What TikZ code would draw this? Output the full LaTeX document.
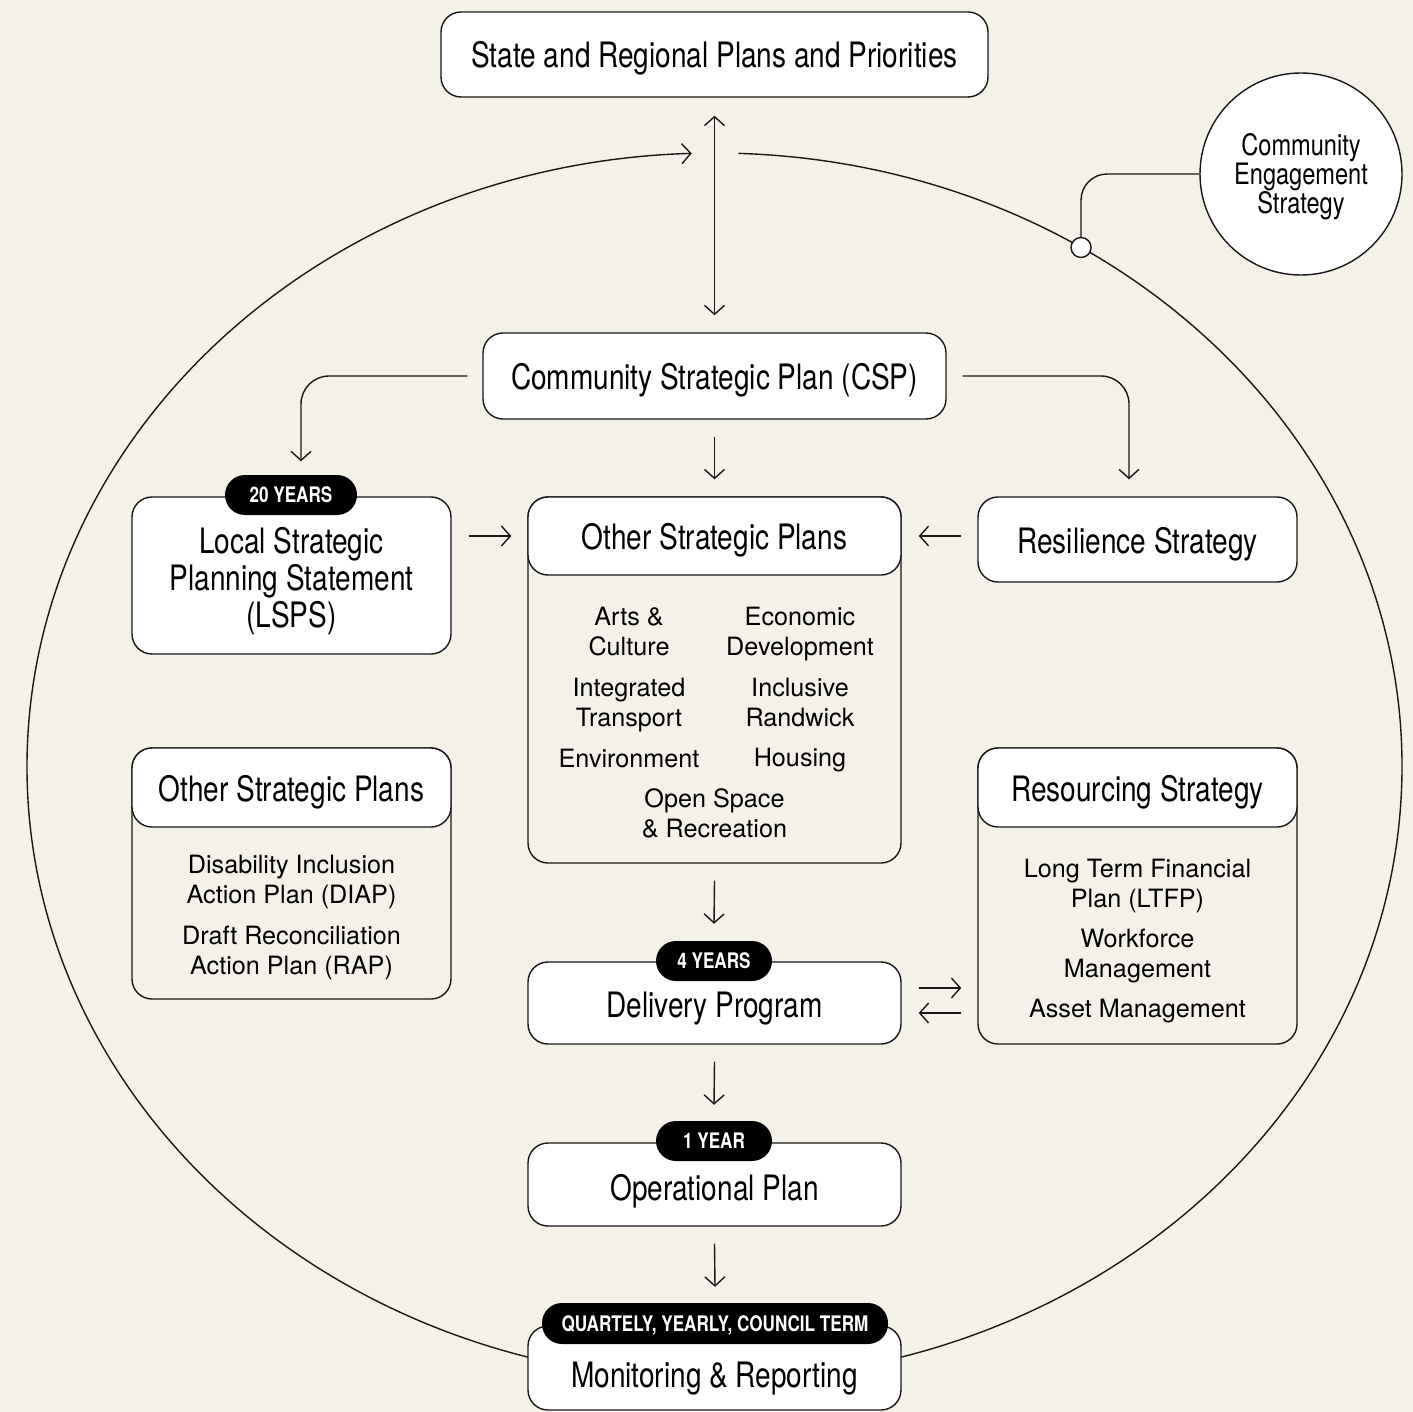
\documentclass[tikz,border=0pt]{standalone}
\usepackage{fontspec}
\setmainfont{TeX Gyre Heros}
\newfontfamily\condsans[FakeStretch=0.8]{TeX Gyre Heros}
\usetikzlibrary{arrows.meta}
\definecolor{paper}{RGB}{244,241,233}
\definecolor{ink}{RGB}{24,24,24}
\newcommand\hdfont{\condsans\fontsize{35}{37}\selectfont}
\newcommand\tgfont{\condsans\bfseries\fontsize{21.4}{21.4}\selectfont}
\newcommand\lsfont{\fontsize{25.2}{30}\selectfont}
\newcommand\rgfont{\condsans\fontsize{29.5}{29}\selectfont}
\tikzset{
  >={Straight Barb[length=9pt,width=20pt]},
  conn/.style={draw=ink, line width=1.4pt},
  box/.style={draw=ink, line width=1.4pt, fill=white, rounded corners=20pt,
    inner sep=0pt, align=center, font=\hdfont, text=black,
    text height=27pt, text depth=0pt},
  boxtxt/.style={align=center, font=\hdfont, text=black, inner sep=0pt},
  panel/.style={draw=ink, line width=1.4pt, fill=paper, rounded corners=20pt, inner sep=0pt},
  tag/.style={fill=black, text=white, rounded corners=20pt, inner sep=0pt,
    minimum height=40pt, font=\tgfont, text height=15.5pt, text depth=0pt},
  listtxt/.style={align=center, font=\lsfont, inner sep=0pt, text=black},
  ring/.style={draw=ink, line width=1.4pt, fill=white, circle, inner sep=0pt,
    minimum size=202pt},
  ringtxt/.style={align=center, font=\rgfont, inner sep=0pt, text=black},
  hubdot/.style={draw=ink, line width=1.4pt, fill=white, circle, inner sep=0pt, minimum size=20pt},
}
\begin{document}
\begin{tikzpicture}[x=1pt,y=1pt]
\fill[paper] (0,0) rectangle (1413,-1412);
\useasboundingbox (0,0) rectangle (1413,-1412);

% planning cycle loop
\coordinate (ringc) at (714.5,-766.5);
\draw[conn,->] ([shift={(88:687.5pt and 613.5pt)}]ringc)
  arc[start angle=88, end angle=-268.1, x radius=687.5pt, y radius=613.5pt];

% engagement strategy attached to the loop
\node[ring] (ces) at (1301,-174) {};
\node[ringtxt] (cestxt) at ([yshift=-3pt]ces.center) {Community\\Engagement\\Strategy};
\node[hubdot] (hub) at ([shift={(57.78:687.5pt and 613.5pt)}]ringc) {};
\draw[conn, rounded corners=26pt] (hub.north) |- (ces.west);

% main boxes
\node[box, minimum width=547pt, minimum height=85pt] (srp) at (714.5,-54.5)
  {State and Regional Plans and Priorities};
\node[box, minimum width=463pt, minimum height=86pt] (csp) at (714.5,-376)
  {Community Strategic Plan (CSP)};
\node[box, minimum width=319pt, minimum height=157pt] (lsps) at (291.5,-575.5) {};
\node[boxtxt] (lspstxt) at ([yshift=-6pt]lsps.center)
  {Local Strategic\\Planning Statement\\(LSPS)};
\node[box, minimum width=319pt, minimum height=85pt] (res) at (1137.5,-539.5)
  {Resilience Strategy};

% central strategic plans panel
\node[panel, minimum width=373pt, minimum height=366pt] (ospbody) at (714.5,-680) {};
\node[box, minimum width=373pt, minimum height=78pt] (osphead) at (714.5,-536)
  {Other Strategic Plans};
\node[listtxt] (arts) at (629,-632) {Arts \&\\Culture};
\node[listtxt] (econ) at (800,-634.5) {Economic\\Development};
\node[listtxt] (trans) at (629,-705) {Integrated\\Transport};
\node[listtxt] (incl) at (800,-702.5) {Inclusive\\Randwick};
\node[listtxt] (env) at (629,-758) {Environment};
\node[listtxt] (hous) at (800,-760) {Housing};
\node[listtxt] (open) at (714.5,-813.5) {Open Space\\\& Recreation};

% left strategic plans panel
\node[panel, minimum width=319pt, minimum height=251pt] (lbody) at (291.5,-873.5) {};
\node[box, minimum width=319pt, minimum height=79pt] (lhead) at (291.5,-787.5)
  {Other Strategic Plans};
\node[listtxt] (diap) at (291.5,-882) {Disability Inclusion\\Action Plan (DIAP)};
\node[listtxt] (rap) at (291.5,-952.5) {Draft Reconciliation\\Action Plan (RAP)};

% resourcing panel
\node[panel, minimum width=319pt, minimum height=296pt] (rsbody) at (1137.5,-896) {};
\node[box, minimum width=319pt, minimum height=79pt] (rshead) at (1137.5,-787.5)
  {Resourcing Strategy};
\node[listtxt] (ltfp) at (1137.5,-885.5) {Long Term Financial\\Plan (LTFP)};
\node[listtxt] (work) at (1137.5,-956.5) {Workforce\\Management};
\node[listtxt] (asset) at (1137.5,-1011.5) {Asset Management};

% delivery chain
\node[box, minimum width=373pt, minimum height=82pt, text height=29pt] (dp) at (714.5,-1003)
  {Delivery Program};
\node[box, minimum width=373pt, minimum height=83pt, text height=32pt] (op) at (714.5,-1184.5)
  {Operational Plan};
\node[box, minimum width=373pt, minimum height=84pt, text height=39pt] (mr) at (714.5,-1368)
  {Monitoring \& Reporting};

% time-frame tags
\node[tag, minimum width=132pt] (tag20) at (291,-495) {20 YEARS};
\node[tag, minimum width=116pt] (tag4) at (714,-961) {4 YEARS};
\node[tag, minimum width=116pt] (tag1) at (714,-1141) {1 YEAR};
\node[tag, minimum width=346pt, minimum height=41pt] (tagq) at (715,-1323.5)
  {QUARTELY, YEARLY, COUNCIL TERM};

% connectors
\draw[conn,<->] ([yshift=-18pt]srp.south) -- ([yshift=17pt]csp.north);
\draw[conn,->,rounded corners=28pt] ([xshift=-15pt]csp.west) -| ([xshift=9.5pt,yshift=35pt]lsps.north);
\draw[conn,->,rounded corners=28pt] ([xshift=16pt]csp.east) -| ([xshift=-8.5pt,yshift=17pt]res.north);
\draw[conn,->] ([yshift=-17pt]csp.south) -- ([yshift=17pt]osphead.north);
\draw[conn,->] ([xshift=17pt]lsps.east |- osphead.west) -- ([xshift=-16pt]osphead.west);
\draw[conn,->] ([xshift=-16pt]res.west |- osphead.east) -- ([xshift=17pt]osphead.east);
\draw[conn,->] ([yshift=-17pt]ospbody.south) -- ([yshift=17pt]tag4.north);
\draw[conn,->] ([xshift=17pt,yshift=15pt]dp.east) -- ([xshift=-16pt,yshift=15pt]rsbody.west |- dp.east);
\draw[conn,<-] ([xshift=17pt,yshift=-10pt]dp.east) -- ([xshift=-16pt,yshift=-10pt]rsbody.west |- dp.east);
\draw[conn,->] ([yshift=-17pt]dp.south) -- ([yshift=16pt]tag1.north);
\draw[conn,->] ([yshift=-17pt]op.south) -- ([yshift=16pt]tagq.north);
\end{tikzpicture}
\end{document}
